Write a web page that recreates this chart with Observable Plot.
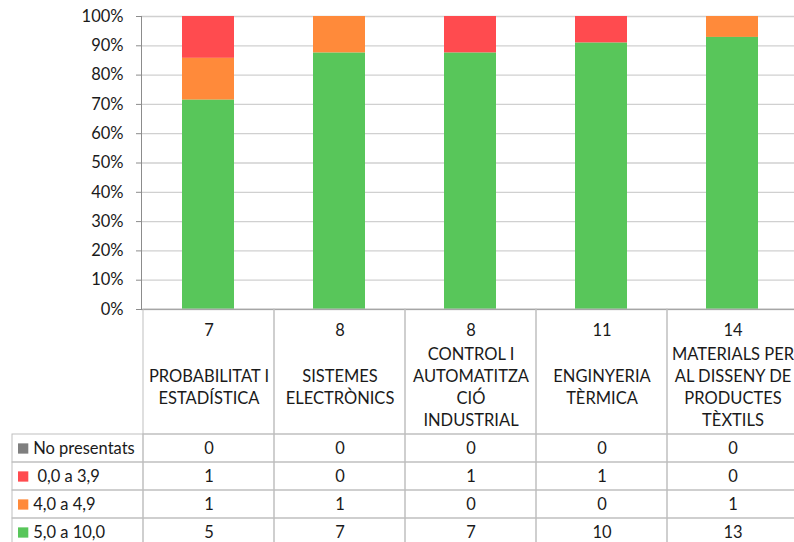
<!DOCTYPE html>
<html><head><meta charset="utf-8">
<script src="https://cdn.jsdelivr.net/npm/d3@7"></script>
<script src="https://cdn.jsdelivr.net/npm/@observablehq/plot@0.6"></script>
<style>
body{margin:0;overflow:hidden;background:#fff;width:794px;height:542px;position:relative}
.part{position:absolute;left:0}
</style>
</head><body>
<div id="chart" class="part" style="top:0"></div>
<div id="head" class="part" style="top:309px"></div>
<div id="body" class="part" style="top:434px"></div>
<script>
// ---- data ----
const categories = [
  "PROBABILITAT I\nESTADÍSTICA",
  "SISTEMES\nELECTRÒNICS",
  "CONTROL I\nAUTOMATITZA\nCIÓ\nINDUSTRIAL",
  "ENGINYERIA\nTÈRMICA",
  "MATERIALS PER\nAL DISSENY DE\nPRODUCTES\nTÈXTILS"
];
const totals = [7, 8, 8, 11, 14];
const series = ["No presentats", " 0,0 a 3,9", "4,0 a 4,9", "5,0 a 10,0"];
const noPresentats = [0, 0, 0, 0, 0];
const grade0to39 = [1, 0, 1, 1, 0];
const grade4to49 = [1, 1, 0, 0, 1];
const grade5to10 = [5, 7, 7, 10, 13];
const seriesColors = ["#7f7f7f", "#ff4b4f", "#ff8a3a", "#58c65a"];
const yTicks = [0, 0.1, 0.2, 0.3, 0.4, 0.5, 0.6, 0.7, 0.8, 0.9, 1];

// ---- tidy table built from the arrays ----
const seriesValues = [noPresentats, grade0to39, grade4to49, grade5to10];
const rows = [];
series.forEach((s, si) => categories.forEach((c, ci) =>
  rows.push({cat: c, series: s, value: seriesValues[si][ci]})));
const stackOrder = series.slice().reverse();

const W = 802;
const FS = 16.5;
const FONT = "Lato, 'Liberation Sans', sans-serif";
const INK = "#1a1a1a";
const baseStyle = {maxWidth: "none", overflow: "visible", fontFamily: FONT, fontSize: FS + "px", color: INK, background: "transparent"};
const gridColor = "#bfbfbf";

// ---- stacked 100% bar chart ----
const chart = Plot.plot({
  width: W, height: 310,
  marginLeft: 141, marginRight: 2, marginTop: 16, marginBottom: 1,
  style: baseStyle,
  x: {domain: categories, paddingInner: 0.6, paddingOuter: 0.3, axis: null},
  y: {domain: [0, 1], axis: null},
  color: {domain: series, range: seriesColors},
  marks: [
    Plot.gridY(yTicks, {stroke: "#d0d0d0", strokeOpacity: 1, strokeWidth: 1.3}),
    Plot.barY(rows, Plot.stackY({offset: "normalize", order: stackOrder},
      {x: "cat", y: "value", z: "series", fill: "series"})),
    Plot.axisY(yTicks, {tickSize: 5, tickPadding: 13, stroke: "#8c8c8c", fontSize: 16.5, label: null,
      tickFormat: d => Math.round(d * 100) + "%", fill: INK}),
    Plot.ruleY([0], {stroke: "#8c8c8c"}),
    Plot.frame({anchor: "left", stroke: "#8c8c8c"})
  ]
});
document.getElementById("chart").append(chart);

// ---- data table header (totals + category names) ----
const tableX = {domain: ["", ...categories], padding: 0, axis: null};
const head = Plot.plot({
  width: W, height: 125,
  marginLeft: 10, marginRight: 2, marginTop: 0, marginBottom: 0,
  style: baseStyle,
  x: tableX,
  marks: [
    Plot.cell(categories, {x: d => d, fill: "none", stroke: gridColor}),
    Plot.text(categories, {x: d => d, text: (d, i) => String(totals[i]), frameAnchor: "top", dy: 15, fontSize: FS, fill: INK}),
    Plot.text(categories, {x: d => d, text: d => d, frameAnchor: "middle", dy: 14, lineHeight: 1.34, fontSize: FS, fill: INK})
  ]
});
document.getElementById("head").append(head);

// ---- data table body ----
const bandW = (W - 10 - 2) / (categories.length + 1);
const body = Plot.plot({
  width: W, height: 112,
  marginLeft: 10, marginRight: 2, marginTop: 0, marginBottom: 0,
  style: baseStyle,
  x: tableX,
  y: {domain: series, padding: 0, axis: null},
  color: {domain: series, range: seriesColors},
  marks: [
    Plot.cell(rows, {x: "cat", y: "series", fill: "none", stroke: gridColor}),
    Plot.cell(series, {x: () => "", y: d => d, fill: "none", stroke: gridColor}),
    Plot.dot(series, {x: () => "", y: d => d, fill: d => d, symbol: "square", r: 5.8, dx: -bandW / 2 + 11}),
    Plot.text(series, {x: () => "", y: d => d, text: d => d, textAnchor: "start", dx: -bandW / 2 + 21, fontSize: FS, fill: INK}),
    Plot.text(rows, {x: "cat", y: "series", text: d => String(d.value), fontSize: FS, fill: INK})
  ]
});
document.getElementById("body").append(body);
</script>
</body></html>
